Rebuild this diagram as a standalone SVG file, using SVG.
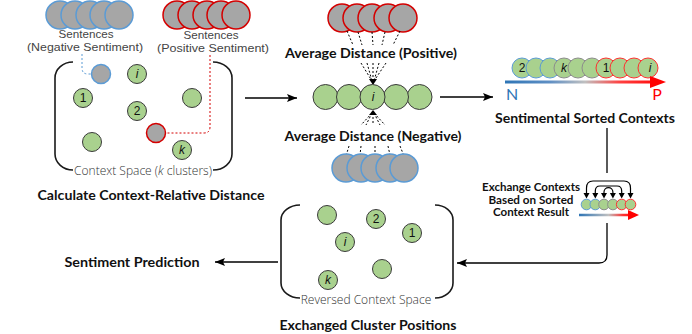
<svg xmlns="http://www.w3.org/2000/svg" width="692" height="334" viewBox="0 0 692 334">
<style>
.g{fill:#a9d18e;stroke:#3a3a3a;stroke-width:1}
.gb{fill:#a6a6a6;stroke:#5b9bd5;stroke-width:1.5}
.gr{fill:#a6a6a6;stroke:#d40000;stroke-width:1.5}
.sb{fill:#a9d18e;stroke:#5b9bd5;stroke-width:1}
.sg{fill:#a9d18e;stroke:#8c8c8c;stroke-width:1}
.sr{fill:#a9d18e;stroke:#ff3030;stroke-width:1}
.br{fill:none;stroke:#1a1a1a;stroke-width:1.6}
.ln{fill:none;stroke:#000;stroke-width:1.3}
.ds{fill:none;stroke:#000;stroke-width:1;stroke-dasharray:2,2}
.bt{font-family:Lato,"Liberation Sans",sans-serif;font-weight:bold;font-size:14px;fill:#111;text-anchor:middle}
.mt{font-family:Lato,"Liberation Sans",sans-serif;font-weight:bold;font-size:11px;fill:#111;text-anchor:middle}
.lt{font-family:"Open Sans","Liberation Sans",sans-serif;font-weight:300;font-size:12px;fill:#333;text-anchor:middle}
.st{font-family:"Liberation Sans",sans-serif;font-size:11px;fill:#444;text-anchor:middle}
.cl{font-family:"Liberation Sans",sans-serif;font-size:12px;fill:#111;text-anchor:middle}
.it{font-style:italic}
</style>
<defs>
<marker id="ah" markerUnits="userSpaceOnUse" markerWidth="10" markerHeight="10" viewBox="0 0 10 10" refX="10" refY="5" orient="auto">
<path d="M0,1 L10,5 L0,9 L2,5 Z" fill="#000"/>
</marker>
<linearGradient id="gradA" gradientUnits="userSpaceOnUse" x1="505" y1="0" x2="665" y2="0">
<stop offset="0" stop-color="#2e75b6"/>
<stop offset="0.28" stop-color="#5f8fc4"/>
<stop offset="0.5" stop-color="#c0c0c0"/>
<stop offset="0.72" stop-color="#ff4040"/>
<stop offset="1" stop-color="#ff0000"/>
</linearGradient>
<linearGradient id="gradB" gradientUnits="userSpaceOnUse" x1="579" y1="0" x2="638" y2="0">
<stop offset="0" stop-color="#2e75b6"/>
<stop offset="0.5" stop-color="#c0c0c0"/>
<stop offset="0.75" stop-color="#ff3030"/>
<stop offset="1" stop-color="#ff0000"/>
</linearGradient>
</defs>

<g id="neg-sentences">
<circle class="gb" cx="60" cy="15" r="14"/>
<circle class="gb" cx="75" cy="15" r="14"/>
<circle class="gb" cx="90" cy="15" r="14"/>
<circle class="gb" cx="104" cy="15" r="14"/>
<circle class="gb" cx="119" cy="15" r="14"/>
<text class="st" x="86" y="38" textLength="55" lengthAdjust="spacingAndGlyphs">Sentences</text>
<text class="st" x="85" y="51" textLength="116" lengthAdjust="spacingAndGlyphs">(Negative Sentiment)</text>
</g>

<g id="pos-sentences">
<circle class="gr" cx="177" cy="15" r="14"/>
<circle class="gr" cx="192" cy="15" r="14"/>
<circle class="gr" cx="207" cy="15" r="14"/>
<circle class="gr" cx="221" cy="15" r="14"/>
<circle class="gr" cx="236" cy="15" r="14"/>
<text class="st" x="211" y="39" textLength="55" lengthAdjust="spacingAndGlyphs">Sentences</text>
<text class="st" x="213" y="52" textLength="112" lengthAdjust="spacingAndGlyphs">(Positive Sentiment)</text>
</g>

<g id="context-space">
<path class="br" d="M73,62 A18,16 0 0 0 55,78 L55,154 A18,16 0 0 0 73,170"/>
<path class="br" d="M213,62 A19,16 0 0 1 232,78 L232,154 A19,16 0 0 1 213,170"/>
<text class="lt" x="143" y="175">Context Space (<tspan class="it">k</tspan> clusters)</text>
<circle class="gb" cx="101" cy="74" r="9.5"/>
<circle class="g" cx="137" cy="74" r="9.5"/><text class="cl it" x="137" y="78">i</text>
<circle class="g" cx="83" cy="98" r="9.5"/><text class="cl" x="83" y="102">1</text>
<circle class="g" cx="192" cy="98" r="9.5"/>
<circle class="g" cx="137" cy="111" r="9.5"/><text class="cl" x="137" y="115">2</text>
<circle class="gr" cx="156" cy="133" r="9.5"/>
<circle class="g" cx="92" cy="142" r="9.5"/>
<circle class="g" cx="182" cy="150" r="9.5"/><text class="cl it" x="182" y="154">k</text>
</g>
<text class="bt" x="151" y="200" textLength="227" lengthAdjust="spacingAndGlyphs">Calculate Context-Relative Distance</text>

<g id="average-distance">
<circle class="gr" cx="342" cy="18" r="14"/>
<circle class="gr" cx="357" cy="18" r="14"/>
<circle class="gr" cx="372" cy="18" r="14"/>
<circle class="gr" cx="388" cy="18" r="14"/>
<circle class="gr" cx="403" cy="18" r="14"/>
<path class="ds" d="M347,31 L353,45 M358,32 L362,45 M372,32 L373,45 M385,32 L382,45 M400,31 L393,45"/>
<text class="bt" x="371" y="58" textLength="172" lengthAdjust="spacingAndGlyphs">Average Distance (Positive)</text>
<path class="ds" d="M361,63 L372,81 M367,63 L372,81 M373,63 L373,81 M379,63 L374,81 M386,63 L374,81"/>
<path d="M369,79 L377,79 L373,85 Z" fill="#000"/>
<circle class="g" cx="325.5" cy="97" r="12.5"/>
<circle class="g" cx="349" cy="97" r="12.5"/>
<circle class="g" cx="419.5" cy="97" r="12.5"/>
<circle class="g" cx="396" cy="97" r="12.5"/>
<circle class="g" cx="372.5" cy="97" r="12.5"/><text class="cl it" x="373" y="101">i</text>
<path d="M369,115 L377,115 L373,110 Z" fill="#000"/>
<path class="ds" d="M372,113 L361,125 M372,113 L366,125 M373,113 L373,125 M374,113 L380,125 M374,113 L385,125"/>
<text class="bt" x="373" y="141" textLength="177" lengthAdjust="spacingAndGlyphs">Average Distance (Negative)</text>
<path class="ds" d="M349,146 L346,156 M361,146 L360,155 M375,146 L375,155 M388,146 L390,155 M400,146 L404,156"/>
<circle class="gb" cx="346" cy="168" r="14"/>
<circle class="gb" cx="361" cy="168" r="14"/>
<circle class="gb" cx="375" cy="168" r="14"/>
<circle class="gb" cx="390" cy="168" r="14"/>
<circle class="gb" cx="404" cy="168" r="14"/>
</g>

<g id="sorted-contexts">
<circle class="sb" cx="522" cy="68" r="10"/>
<circle class="sb" cx="536" cy="68" r="10"/>
<circle class="sb" cx="550" cy="68" r="10"/>
<circle class="sg" cx="564" cy="68" r="10"/>
<circle class="sg" cx="578" cy="68" r="10"/>
<circle class="sg" cx="592" cy="68" r="10"/>
<circle class="sr" cx="606" cy="68" r="10"/>
<circle class="sr" cx="620" cy="68" r="10"/>
<circle class="sr" cx="634" cy="68" r="10"/>
<circle class="sr" cx="648" cy="68" r="10"/>
<text class="cl" x="522" y="72">2</text>
<text class="cl it" x="564" y="72">k</text>
<text class="cl" x="606" y="72">1</text>
<text class="cl it" x="650" y="72">i</text>
<line x1="505" y1="82" x2="652" y2="82" stroke="url(#gradA)" stroke-width="3"/>
<path d="M650,76 L666,82 L650,88 Z" fill="#ff0000"/>
<text x="512" y="100" font-family="Lato,'Liberation Sans',sans-serif" font-size="16" fill="#2e75b6" text-anchor="middle">N</text>
<text x="657" y="100" font-family="Lato,'Liberation Sans',sans-serif" font-size="16" fill="#ff0000" text-anchor="middle">P</text>
</g>
<text class="bt" x="585" y="123" textLength="180" lengthAdjust="spacingAndGlyphs">Sentimental Sorted Contexts</text>

<g id="exchange">
<text class="mt" x="531" y="191" textLength="98" lengthAdjust="spacingAndGlyphs">Exchange Contexts</text>
<text class="mt" x="531" y="204" textLength="85" lengthAdjust="spacingAndGlyphs">Based on Sorted</text>
<text class="mt" x="531" y="216" textLength="76" lengthAdjust="spacingAndGlyphs">Context Result</text>
<path fill="none" stroke="#000" stroke-width="1.2" d="M586.5,193 L586.5,188 Q586.5,181 593,181 L624,181 Q630.5,181 630.5,188 L630.5,193"/>
<path fill="none" stroke="#000" stroke-width="1.2" d="M595.3,193 L595.3,191 Q595.3,186 600,186 L617,186 Q621.7,186 621.7,191 L621.7,193"/>
<path fill="none" stroke="#000" stroke-width="1.2" d="M604,193 L604,192 A4.4,4.4 0 0 1 612.9,192 L612.9,193"/>
<path fill="#000" d="M583.5,193 L589.5,193 L586.5,198.5 Z M592.3,193 L598.3,193 L595.3,198.5 Z M601,193 L607,193 L604,198.5 Z M609.9,193 L615.9,193 L612.9,198.5 Z M618.7,193 L624.7,193 L621.7,198.5 Z M627.5,193 L633.5,193 L630.5,198.5 Z"/>
<circle class="sb" cx="586.5" cy="204.5" r="5.3"/>
<circle class="sb" cx="595.3" cy="204.5" r="5.3"/>
<circle class="sg" cx="604" cy="204.5" r="5.3"/>
<circle class="sg" cx="612.9" cy="204.5" r="5.3"/>
<circle class="sr" cx="621.7" cy="204.5" r="5.3"/>
<circle class="sr" cx="630.5" cy="204.5" r="5.3"/>
<line x1="579" y1="215" x2="630" y2="215" stroke="url(#gradB)" stroke-width="2.5"/>
<path d="M628,210 L639,215 L628,220 Z" fill="#ff0000"/>
</g>

<g id="reversed-space">
<path class="br" d="M300,205 A19,15 0 0 0 281,220 L281,283 A19,15 0 0 0 300,298"/>
<path class="br" d="M435,205 A18,15 0 0 1 453,220 L453,283 A18,15 0 0 1 435,298"/>
<text class="lt" x="366" y="304">Reversed Context Space</text>
<circle class="g" cx="327" cy="215" r="9.5"/>
<circle class="g" cx="376" cy="219" r="9.5"/><text class="cl" x="376" y="223">2</text>
<circle class="g" cx="412" cy="233" r="9.5"/><text class="cl" x="412" y="237">1</text>
<circle class="g" cx="345" cy="242" r="9.5"/><text class="cl it" x="345" y="246">i</text>
<circle class="g" cx="382" cy="269" r="9.5"/>
<circle class="g" cx="328" cy="280" r="9.5"/><text class="cl it" x="328" y="284">k</text>
</g>
<text class="bt" x="368" y="330" textLength="177" lengthAdjust="spacingAndGlyphs">Exchanged Cluster Positions</text>

<text class="bt" id="prediction" x="132" y="267" textLength="135" lengthAdjust="spacingAndGlyphs">Sentiment Prediction</text>

<g id="connectors">
<path class="ds" style="stroke:#5b9bd5" d="M82,54 L82,68 Q82,74 88,74 L91,74"/>
<path class="ds" style="stroke:#d40000" d="M210,55 L210,127 Q210,133 204,133 L166,133"/>
<line class="ln" x1="245" y1="98" x2="297" y2="98" marker-end="url(#ah)"/>
<line class="ln" x1="440" y1="97" x2="493" y2="97" marker-end="url(#ah)"/>
<line class="ln" x1="607" y1="128" x2="607" y2="173"/>
<path class="ln" d="M607,223 L607,255 Q607,263 599,263 L457,263" marker-end="url(#ah)"/>
<line class="ln" x1="278" y1="262" x2="215" y2="262" marker-end="url(#ah)"/>
</g>
</svg>
